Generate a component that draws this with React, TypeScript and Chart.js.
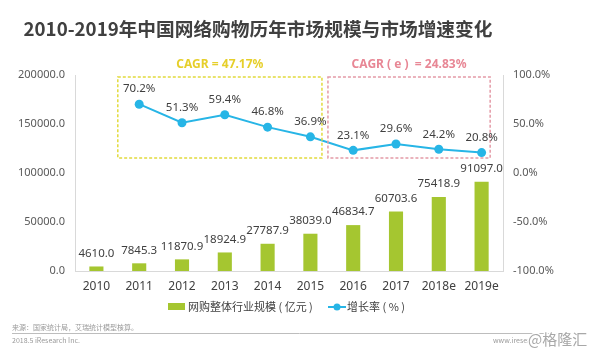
import React, { useEffect, useRef } from "react";
import { Chart, registerables } from "chart.js";

Chart.register(...registerables);

const categories = ["2010", "2011", "2012", "2013", "2014", "2015", "2016", "2017", "2018e", "2019e"];
const marketSize = [4610.0, 7845.3, 11870.9, 18924.9, 27787.9, 38039.0, 46834.7, 60703.6, 75418.9, 91097.0];
const growthRate = [null, 70.2, 51.3, 59.4, 46.8, 36.9, 23.1, 29.6, 24.2, 20.8];
const leftTicks = [0, 50000, 100000, 150000, 200000];
const rightTicks = [-100, -50, 0, 50, 100];

const titleText = "2010-2019年中国网络购物历年市场规模与市场增速变化";
const barLegend = "网购整体行业规模 ( 亿元 )";
const lineLegend = "增长率 ( % )";
const cagrBoxes = [
  { label: "CAGR = 47.17%", from: 0.5, to: 5.27, top: 98, bottom: 15.3, color: "#e2da3c", text: "#e6cf2a" },
  { label: "CAGR ( e )  = 24.83%", from: 5.41, to: 9.2, top: 98, bottom: 15.3, color: "#e49aa6", text: "#e88795" },
];

const BAR = "#a5c630";
const LINE = "#27b5e6";
const FONT = "'Noto Sans', 'Noto Sans CJK SC', sans-serif";
const CJK = "'Noto Sans CJK SC', sans-serif";

const decorPlugin = {
  id: "decor",
  afterDatasetsDraw(chart: any) {
    const ctx = chart.ctx;
    const x = chart.scales.x;
    const yR = chart.scales.y1;
    ctx.save();
    cagrBoxes.forEach((b) => {
      const l = x.getPixelForValue(b.from);
      const r = x.getPixelForValue(b.to);
      const t = yR.getPixelForValue(b.top);
      const bt = yR.getPixelForValue(b.bottom);
      ctx.strokeStyle = b.color;
      ctx.lineWidth = 1.5;
      ctx.setLineDash([3, 2]);
      ctx.strokeRect(l, t, r - l, bt - t);
      ctx.setLineDash([]);
      ctx.fillStyle = b.text;
      ctx.font = "bold 12px " + FONT;
      ctx.textAlign = "center";
      ctx.textBaseline = "middle";
      ctx.fillText(b.label, (l + r) / 2, t - 12);
    });
    const barMeta = chart.getDatasetMeta(0);
    ctx.fillStyle = "#404040";
    ctx.font = "11.5px " + FONT;
    ctx.textAlign = "center";
    ctx.textBaseline = "middle";
    barMeta.data.forEach((el: any, i: number) => {
      ctx.fillText(marketSize[i].toFixed(1), el.x, el.y - 13);
    });
    const lineMeta = chart.getDatasetMeta(1);
    lineMeta.data.forEach((el: any, i: number) => {
      const v = growthRate[i];
      if (v == null) return;
      ctx.fillText(v.toFixed(1) + "%", el.x, el.y - 15);
    });
    ctx.restore();
  },
  afterDraw(chart: any) {
    const ctx = chart.ctx;
    ctx.save();
    ctx.fillStyle = "#404040";
    ctx.font = "bold 18.7px " + CJK;
    ctx.textAlign = "center";
    ctx.textBaseline = "middle";
    ctx.fillText(titleText, 258, 29);
    ctx.fillStyle = BAR;
    ctx.fillRect(168, 303, 17, 7);
    ctx.fillStyle = "#404040";
    ctx.font = "11px " + CJK;
    ctx.textAlign = "left";
    ctx.fillText(barLegend, 188, 307);
    ctx.strokeStyle = LINE;
    ctx.lineWidth = 2;
    ctx.beginPath();
    ctx.moveTo(328, 307);
    ctx.lineTo(346, 307);
    ctx.stroke();
    ctx.fillStyle = LINE;
    ctx.beginPath();
    ctx.arc(337, 307, 3.5, 0, Math.PI * 2);
    ctx.fill();
    ctx.fillStyle = "#404040";
    ctx.fillText(lineLegend, 347, 307);
    ctx.fillStyle = "#9a9a9a";
    ctx.font = "7px " + CJK;
    ctx.fillText("来源：国家统计局，艾瑞统计模型核算。", 12, 327);
    ctx.fillText("2018.5 iResearch Inc.", 12, 340);
    ctx.strokeStyle = "#bdbdbd";
    ctx.lineWidth = 1;
    ctx.beginPath();
    ctx.moveTo(12, 333.5);
    ctx.lineTo(587, 333.5);
    ctx.stroke();
    ctx.fillText("www.iresearch.com.cn", 493, 340);
    ctx.font = "15px " + CJK;
    ctx.lineWidth = 3;
    ctx.strokeStyle = "#ffffff";
    ctx.strokeText("@格隆汇", 528, 339);
    ctx.fillStyle = "#a8a8a8";
    ctx.fillText("@格隆汇", 528, 339);
    ctx.restore();
  },
};

export default function App() {
  const ref = useRef<HTMLCanvasElement | null>(null);
  useEffect(() => {
    if (!ref.current) return;
    const chart = new Chart(ref.current, {
      type: "bar",
      data: {
        labels: categories,
        datasets: [
          {
            type: "bar",
            label: barLegend,
            data: marketSize,
            backgroundColor: BAR,
            yAxisID: "y",
            categoryPercentage: 1,
            barPercentage: 0.33,
            order: 1,
          },
          {
            type: "line",
            label: lineLegend,
            data: growthRate as any,
            borderColor: LINE,
            backgroundColor: LINE,
            borderWidth: 2,
            pointRadius: 4.5,
            pointBackgroundColor: LINE,
            pointBorderWidth: 0,
            yAxisID: "y1",
            order: 0,
          },
        ],
      },
      options: {
        responsive: false,
        animation: false,
        layout: { padding: { top: 75, left: 0, right: 0, bottom: 0 } },
        plugins: { legend: { display: false }, title: { display: false }, tooltip: { enabled: false } },
        scales: {
          x: {
            grid: { display: false, drawTicks: false },
            border: { color: "#d9d9d9" },
            ticks: { color: "#404040", font: { size: 12, family: FONT }, padding: 8 },
            afterFit: (s: any) => { s.height = 82; },
          },
          y: {
            position: "left",
            min: 0,
            max: 200000,
            afterBuildTicks: (s: any) => { s.ticks = leftTicks.map((v) => ({ value: v })); },
            grid: { display: false, drawTicks: false },
            border: { color: "#d9d9d9" },
            ticks: { color: "#595959", font: { size: 11, family: FONT }, padding: 10, callback: (v: any) => Number(v).toFixed(1) },
            afterFit: (s: any) => { s.width = 75; },
          },
          y1: {
            position: "right",
            min: -100,
            max: 100,
            afterBuildTicks: (s: any) => { s.ticks = rightTicks.map((v) => ({ value: v })); },
            grid: { display: false, drawTicks: false },
            border: { color: "#d9d9d9" },
            ticks: { color: "#595959", font: { size: 11, family: FONT }, padding: 10, callback: (v: any) => Number(v).toFixed(1) + "%" },
            afterFit: (s: any) => { s.width = 86; },
          },
        },
      },
      plugins: [decorPlugin],
    });
    return () => chart.destroy();
  }, []);
  return (
    <div style={{ position: "absolute", left: 0, top: 0, width: 589, height: 353, background: "#fff" }}>
      <canvas ref={ref} width={589} height={353} style={{ display: "block" }} />
    </div>
  );
}
